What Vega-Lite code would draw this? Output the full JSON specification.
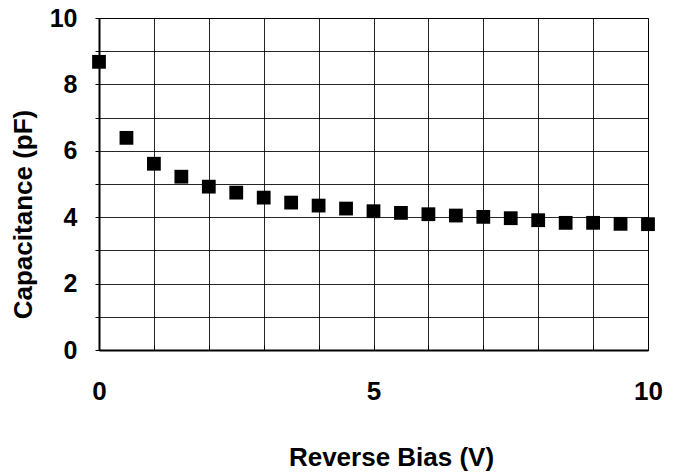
{
  "$schema": "https://vega.github.io/schema/vega-lite/v6.json",
  "width": 549,
  "height": 332,
  "autosize": {"type": "none"},
  "padding": {"left": 99, "top": 18, "right": 30, "bottom": 124},
  "background": "white",
  "config": {
    "view": {"stroke": "black", "strokeWidth": 1},
    "font": "Liberation Sans"
  },
  "data": {"values": [
    {"v": 0, "c": 8.68}, {"v": 0.5, "c": 6.39}, {"v": 1, "c": 5.61}, {"v": 1.5, "c": 5.22},
    {"v": 2, "c": 4.92}, {"v": 2.5, "c": 4.74}, {"v": 3, "c": 4.59}, {"v": 3.5, "c": 4.44},
    {"v": 4, "c": 4.35}, {"v": 4.5, "c": 4.26}, {"v": 5, "c": 4.18}, {"v": 5.5, "c": 4.13},
    {"v": 6, "c": 4.09}, {"v": 6.5, "c": 4.05}, {"v": 7, "c": 4.01}, {"v": 7.5, "c": 3.97},
    {"v": 8, "c": 3.91}, {"v": 8.5, "c": 3.83}, {"v": 9, "c": 3.83}, {"v": 9.5, "c": 3.80},
    {"v": 10, "c": 3.79}
  ]},
  "mark": {"type": "square", "filled": true, "color": "black", "opacity": 1, "size": 190, "clip": false},
  "encoding": {
    "x": {
      "field": "v", "type": "quantitative",
      "scale": {"domain": [0, 10], "nice": false, "zero": false},
      "axis": {
        "values": [0,1,2,3,4,5,6,7,8,9,10],
        "labelExpr": "datum.value % 5 === 0 ? datum.label : ''",
        "title": "Reverse Bias (V)",
        "titleFont": "Liberation Sans", "titleFontSize": 26, "titleFontWeight": "bold", "titleColor": "black",
        "titlePadding": 40,
        "titleX": 292,
        "labelFont": "Liberation Sans", "labelFontSize": 26, "labelFontWeight": "bold", "labelColor": "black",
        "labelPadding": 33,
        "labelFlush": false,
        "grid": true, "gridColor": "black", "gridOpacity": 0.85, "gridWidth": 1,
        "domainColor": "black", "domainWidth": 2,
        "ticks": true, "tickSize": -5, "tickColor": "black"
      }
    },
    "y": {
      "field": "c", "type": "quantitative",
      "scale": {"domain": [0, 10], "nice": false},
      "axis": {
        "values": [0,1,2,3,4,5,6,7,8,9,10],
        "labelExpr": "datum.value % 2 === 0 ? datum.label : ''",
        "title": "Capacitance (pF)",
        "titleFont": "Liberation Sans", "titleFontSize": 26, "titleFontWeight": "bold", "titleColor": "black",
        "titlePadding": 13,
        "titleY": 196,
        "labelFont": "Liberation Sans", "labelFontSize": 25, "labelFontWeight": "bold", "labelColor": "black",
        "labelPadding": 18,
        "labelFlush": false,
        "grid": true, "gridColor": "black", "gridOpacity": 0.85, "gridWidth": 1,
        "domainColor": "black", "domainWidth": 2,
        "ticks": true, "tickSize": 4, "tickColor": "black"
      }
    }
  }
}
